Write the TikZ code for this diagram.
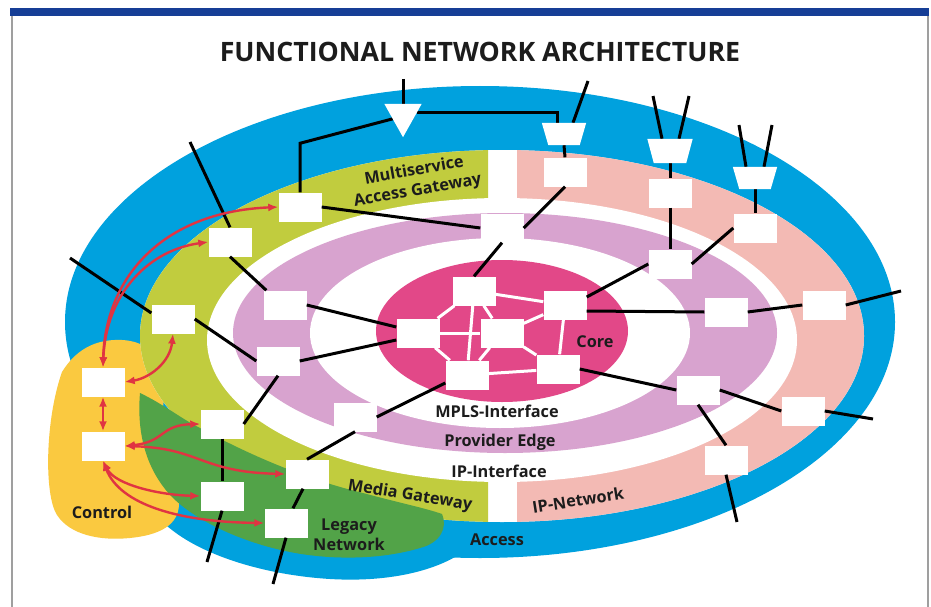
\documentclass[tikz,border=0pt]{standalone}
\usepackage{fontspec}
\setmainfont{Open Sans}
\usetikzlibrary{calc,arrows.meta}

\definecolor{accessblue}{RGB}{0,161,222}
\definecolor{gatewaylime}{RGB}{193,204,62}
\definecolor{legacygreen}{RGB}{82,163,72}
\definecolor{ippink}{RGB}{243,186,180}
\definecolor{edgeorchid}{RGB}{216,163,207}
\definecolor{coremagenta}{RGB}{226,72,136}
\definecolor{controlyellow}{RGB}{250,201,64}
\definecolor{signalred}{RGB}{224,52,66}
\definecolor{barblue}{RGB}{22,62,150}
\definecolor{inkdark}{RGB}{28,28,28}

\begin{document}
\begin{tikzpicture}[x=1pt,y=-1pt,
  elem/.style={fill=white, minimum width=43pt, minimum height=29pt, inner sep=0pt},
  funnel/.style={minimum width=44pt, minimum height=22pt, inner sep=0pt},
  link/.style={line width=3pt, black},
  corelink/.style={line width=3pt, white},
  ctrlsig/.style={line width=2.4pt, signalred, {Latex[length=10pt,width=8pt]}-{Latex[length=10pt,width=8pt]}},
  lbl/.style={font=\bfseries\fontsize{16.3}{20}\selectfont, text=inkdark, align=center, inner sep=0pt},
]
\useasboundingbox (0,0) rectangle (931,607);
\fill[white] (0,0) rectangle (931,607);

% frame
\fill[barblue] (10,8) rectangle (929,16);
\draw[gray!75, line width=1.2pt] (12,16) -- (12,607);
\draw[gray!75, line width=1.2pt] (928,16) -- (928,607);

% access domain
\fill[accessblue] (480,322) ellipse [x radius=415pt, y radius=236pt];
\fill[accessblue] (120,420) .. controls (128,480) and (145,510) .. (172,530)
  .. controls (205,556) and (265,575) .. (330,579)
  .. controls (380,582) and (425,574) .. (455,557) -- (400,450) -- cycle;

% control domain
\fill[controlyellow] (62,372) .. controls (78,346) and (100,339) .. (122,340)
  .. controls (145,341) and (165,355) .. (165,390) -- (158,450)
  .. controls (165,475) and (180,492) .. (179,505)
  .. controls (178,525) and (160,535) .. (130,538)
  .. controls (100,541) and (70,535) .. (57,515)
  .. controls (44,495) and (45,420) .. (62,372) -- cycle;

% gateway / IP network ring
\fill[white] (502,336) ellipse [x radius=362pt, y radius=186pt];
\begin{scope}
  \clip (0,0) rectangle (488,607);
  \fill[gatewaylime] (502,336) ellipse [x radius=362pt, y radius=186pt];
\end{scope}
\begin{scope}
  \clip (517,0) rectangle (931,607);
  \fill[ippink] (502,336) ellipse [x radius=362pt, y radius=186pt];
\end{scope}
\fill[white] (502,340) ellipse [x radius=295pt, y radius=142pt];

% legacy network
\fill[legacygreen] (140,393) .. controls (165,405) and (180,418) .. (200,428)
  .. controls (240,450) and (300,478) .. (363,493)
  .. controls (400,503) and (425,508) .. (442,514)
  .. controls (448,528) and (440,543) .. (420,548)
  .. controls (380,560) and (330,560) .. (290,552)
  .. controls (240,542) and (195,520) .. (172,497)
  .. controls (150,474) and (136,440) .. (140,393) -- cycle;

% provider edge, MPLS interface, core
\fill[edgeorchid] (505,333) ellipse [x radius=272pt, y radius=120pt];
\fill[white] (500,333) ellipse [x radius=190pt, y radius=95pt];
\fill[coremagenta] (502,331) ellipse [x radius=126pt, y radius=71pt];

% network elements
\node[elem] (msag) at (300,207) {};
\node[elem] (a) at (230,242) {};
\node[elem] (b) at (173,319) {};
\node[elem] (c) at (285,305) {};
\node[elem] (d) at (278,361) {};
\node[elem] (e) at (222,424) {};
\node[elem] (f) at (355,417) {};
\node[elem] (g) at (307,474) {};
\node[elem] (h) at (222,496) {};
\node[elem] (i) at (286,523) {};
\node[elem] (ctrlA) at (103,382) {};
\node[elem] (ctrlB) at (103,446) {};
\node[elem] (coreT) at (474,291) {};
\node[elem] (coreL) at (418,333) {};
\node[elem] (coreM) at (502,333) {};
\node[elem] (coreRT) at (565,305) {};
\node[elem] (coreBL) at (467,375) {};
\node[elem] (coreBR) at (558,369) {};
\node[elem] (pe1) at (502,228) {};
\node[elem] (pe2) at (670,264) {};
\node[elem] (pe3) at (726,312) {};
\node[elem] (q1) at (698,390) {};
\node[elem] (q2) at (803,411) {};
\node[elem] (q3) at (726,460) {};
\node[elem] (p1) at (565,172) {};
\node[elem] (p2) at (670,193) {};
\node[elem] (p3) at (755,228) {};
\node[elem] (p4) at (824,305) {};

% multiplexer and concentrators (outlines filled later)
\node[minimum width=37pt, minimum height=33pt, inner sep=0pt] (tri) at (403,120.5) {};
\node[funnel] (t1) at (564,134) {};
\node[funnel, minimum width=45pt, minimum height=24pt] (t2) at (670,151) {};
\node[funnel] (t3) at (755,178) {};

% free line ends
\coordinate (inTop) at (403,79);
\coordinate (inT1) at (588,81);
\coordinate (inT2a) at (653,96);
\coordinate (inT2b) at (689,96);
\coordinate (inT3a) at (739,125);
\coordinate (inT3b) at (772,125);
\coordinate (outP4) at (901,291);
\coordinate (outQ2) at (873,419);
\coordinate (outQ3) at (737,522);
\coordinate (outA) at (190,142);
\coordinate (outB) at (70,258);
\coordinate (outH) at (207,562);
\coordinate (outI) at (273,584);

% core mesh
\draw[corelink] (coreT) -- (coreL);
\draw[corelink] (coreT) -- (coreRT);
\draw[corelink] (coreT) -- (coreM);
\draw[corelink] (coreT) -- (coreBL);
\draw[corelink] (coreL) -- (coreM);
\draw[corelink] (coreL) -- (coreBL);
\draw[corelink] (coreM) -- (coreRT);
\draw[corelink] (coreM) -- (coreBL);
\draw[corelink] (coreM) -- (coreBR);
\draw[corelink] (coreRT) -- (coreBR);
\draw[corelink] (coreBL) -- (coreBR);

% access lines
\draw[link] (inTop) -- (tri.north);
\draw[link] (msag.north) -- ++(0,-49) -- ($(tri.north west)!0.45!(tri.south)$);
\draw[link] ($(tri.north east)!0.27!(tri.south)$) -| ($(t1.north)+(-7,0)$);
\draw[link] (inT1) -- ($(t1.north)+(9,0)$);
\draw[link] (inT2a) -- ($(t2.north)+(-8,0)$);
\draw[link] (inT2b) -- ($(t2.north)+(9,0)$);
\draw[link] (inT3a) -- ($(t3.north)+(-9,0)$);
\draw[link] (inT3b) -- ($(t3.north)+(9,0)$);
\draw[link] (t1.south) -- (p1.north);
\draw[link] (t2.south) -- (p2.north);
\draw[link] (t3.south) -- (p3.north);
\draw[link] (p1.south) -- (pe1.east);
\draw[link] (p2.south) -- (pe2.north);
\draw[link] (p3.west) -- (pe2.east);
\draw[link] (msag.east) -- (pe1.west);
\draw[link] (pe1.south) -- (coreT.north);
\draw[link] (pe2.west) -- ($(coreRT.east)+(0,-8)$);
\draw[link] ($(coreRT.east)+(0,6)$) -- (pe3.west);
\draw[link] (pe3.east) -- (p4.west);
\draw[link] (p4.east) -- (outP4);
\draw[link] (coreBR.east) -- (q1.west);
\draw[link] (q1.east) -- (q2.west);
\draw[link] (q2.east) -- (outQ2);
\draw[link] (q1.south) -- (q3.north);
\draw[link] (q3.south) -- (outQ3);

\draw[link] (outA) -- (a.north);
\draw[link] (a.south) -- ($(c.north west)+(3,0)$);
\draw[link] (outB) -- ($(b.west)+(0,-6)$);
\draw[link] (b.east) -- (d.west);
\draw[link] (c.east) -- ($(coreL.west)+(0,-6)$);
\draw[link] (d.east) -- ($(coreL.west)+(0,7)$);
\draw[link] (d.south) -- (e.east);
\draw[link] (e.south) -- (h.north);
\draw[link] (h.south) -- (outH);
\draw[link] (f.east) -- ($(coreBL.west)+(0,8)$);
\draw[link] (f.south) -- (g.north);
\draw[link] ($(g.south)+(-4,0)$) -- ($(i.north)+(7,0)$);
\draw[link] (i.south) -- (outI);

% multiplexer and concentrator shapes
\fill[white] (tri.north west) -- (tri.north east) -- (tri.south) -- cycle;
\fill[white] (t1.north west) -- (t1.north east) -- ($(t1.south east)+(-6.5,0)$) -- ($(t1.south west)+(6.5,0)$) -- cycle;
\fill[white] (t2.north west) -- (t2.north east) -- ($(t2.south east)+(-6.5,0)$) -- ($(t2.south west)+(6.5,0)$) -- cycle;
\fill[white] (t3.north west) -- (t3.north east) -- ($(t3.south east)+(-6.5,0)$) -- ($(t3.south west)+(6.5,0)$) -- cycle;

% control signalling
\draw[ctrlsig] (ctrlA.north) .. controls (105,280) and (160,212) .. (msag.west);
\draw[ctrlsig] (ctrlA.north) .. controls (106,292) and (150,250) .. (a.west);
\draw[ctrlsig] (ctrlA.east) .. controls (150,378) and (170,362) .. (b.south);
\draw[ctrlsig] (ctrlA.south) -- (ctrlB.north);
\draw[ctrlsig] (ctrlB.east) .. controls (165,442) and (160,425) .. (e.west);
\draw[ctrlsig] (ctrlB.east) .. controls (200,448) and (200,472) .. (g.west);
\draw[ctrlsig] (ctrlB.south) .. controls (115,485) and (160,495) .. (h.west);
\draw[ctrlsig] (ctrlB.south) .. controls (120,505) and (180,522) .. (i.west);

% labels
\node[font=\bfseries\fontsize{26.7}{30}\selectfont, text=inkdark, inner sep=0pt] (title) at (480,52) {FUNCTIONAL NETWORK ARCHITECTURE};
\node[lbl, rotate=10] (lmsag) at (416,181) {Multiservice\\Access Gateway};
\node[lbl, rotate=-9] (lmg) at (410,496) {Media Gateway};
\node[lbl, rotate=9] (lip) at (578,500) {IP-Network};
\node[lbl] (lleg) at (349,535) {Legacy\\Network};
\node[lbl] (lctrl) at (102,512) {Control};
\node[lbl] (lacc) at (497,540) {Access};
\node[lbl] (lcore) at (595,342) {Core};
\node[lbl] (lmpls) at (497,411) {MPLS-Interface};
\node[lbl] (lpe) at (500,442) {Provider Edge};
\node[lbl] (lipi) at (499,471) {IP-Interface};
\end{tikzpicture}
\end{document}
